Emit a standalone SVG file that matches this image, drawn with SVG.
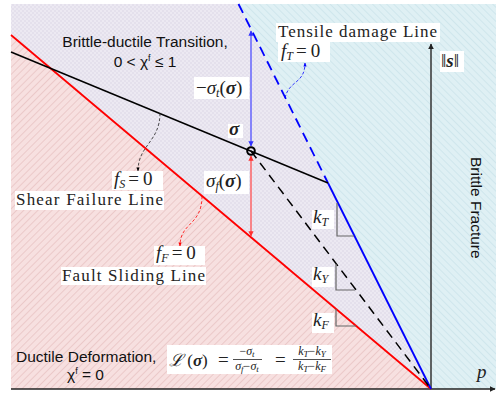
<svg xmlns="http://www.w3.org/2000/svg" width="496" height="396" viewBox="0 0 496 396">
<defs>
<pattern id="pRed" patternUnits="userSpaceOnUse" width="5" height="5" patternTransform="rotate(45)">
<rect width="5" height="5" fill="#f7e0e0"/><line x1="0" y1="0" x2="0" y2="5" stroke="#e9c3c3" stroke-width="1.6"/>
</pattern>
<pattern id="pCyan" patternUnits="userSpaceOnUse" width="5" height="5" patternTransform="rotate(-45)">
<rect width="5" height="5" fill="#dff0f4"/><line x1="0" y1="0" x2="0" y2="5" stroke="#cbe4eb" stroke-width="1.6"/>
</pattern>
<pattern id="pLav" patternUnits="userSpaceOnUse" width="4" height="4">
<rect width="4" height="4" fill="#ece9f2"/><rect width="2" height="2" fill="#e4e0ec"/><rect x="2" y="2" width="2" height="2" fill="#e4e0ec"/>
</pattern>
<marker id="aK" viewBox="0 0 10 10" refX="9" refY="5" markerWidth="5" markerHeight="5" orient="auto"><path d="M0,1 L10,5 L0,9 z" fill="#000"/></marker>
<marker id="aR" viewBox="0 0 10 10" refX="9" refY="5" markerWidth="5" markerHeight="5" orient="auto"><path d="M0,1 L10,5 L0,9 z" fill="#f00"/></marker>
<marker id="aB" viewBox="0 0 10 10" refX="9" refY="5" markerWidth="5" markerHeight="5" orient="auto"><path d="M0,1 L10,5 L0,9 z" fill="#00f"/></marker>
<marker id="aRv" viewBox="0 0 10 10" refX="9" refY="5" markerWidth="4" markerHeight="5" orient="auto-start-reverse"><path d="M0,0 L10,5 L0,10 z" fill="#ff3030"/></marker>
<marker id="aBv" viewBox="0 0 10 10" refX="9" refY="5" markerWidth="4" markerHeight="5" orient="auto-start-reverse"><path d="M0,0 L10,5 L0,10 z" fill="#3030ff"/></marker>
<marker id="aAx" viewBox="0 0 10 10" refX="9" refY="5" markerWidth="4" markerHeight="4" orient="auto"><path d="M0,0 L10,5 L0,10 z" fill="#222"/></marker>
</defs>
<style>
.sans{font-family:"Liberation Sans",Arial,sans-serif;font-size:15.5px;fill:#111}
.ser{font-family:"Liberation Serif","DejaVu Serif",serif;font-size:17px;fill:#222}
.m{font-size:19px}
.it{font-style:italic}
.bf{font-weight:bold;font-style:italic}
.sub{font-size:12px}
.fr{font-size:12px}
.fs{font-size:9px}
.box{fill:#fff}
.tri{fill:none;stroke:#666;stroke-width:1.2}
</style>

<g id="regions">
<polygon points="238.5,4 496,4 496,389 431,389" fill="url(#pCyan)"/>
<polygon points="11,4 238.5,4 431,389 11,35" fill="url(#pLav)"/>
<polygon points="11,35 431,389 11,389" fill="url(#pRed)"/>
</g>

<g id="axes">
<line x1="11" y1="389" x2="495" y2="389" stroke="#222" stroke-width="1.5" marker-end="url(#aAx)"/>
<line x1="431" y1="389" x2="431" y2="44" stroke="#333" stroke-width="1.5" marker-end="url(#aAx)"/>
</g>

<g id="connectors">
<line id="fault-line" x1="11" y1="35" x2="431" y2="389" stroke="#f00" stroke-width="1.8"/>
<line id="tensile-dashed" x1="238.5" y1="4" x2="328" y2="183" stroke="#0000ff" stroke-width="1.8" stroke-dasharray="10,6"/>
<line id="tensile-solid" x1="328" y1="183" x2="431" y2="389" stroke="#0000ff" stroke-width="1.8"/>
<line id="shear-line" x1="11" y1="52" x2="328" y2="183" stroke="#000" stroke-width="1.5"/>
<line id="yield-dashed" x1="251" y1="151" x2="431" y2="389" stroke="#000" stroke-width="1.5" stroke-dasharray="9,6"/>
<line x1="251" y1="31" x2="251" y2="146" stroke="#5050ff" stroke-width="1.3" marker-start="url(#aBv)" marker-end="url(#aBv)"/>
<line x1="251" y1="156" x2="251" y2="236" stroke="#ff5050" stroke-width="1.3" marker-start="url(#aRv)" marker-end="url(#aRv)"/>
<path d="M160,113 C160,142 138,145 138,171" fill="none" stroke="#222" stroke-width="0.8" stroke-dasharray="3,2" marker-end="url(#aK)"/>
<path d="M202,196 C202,226 180,222 180,246" fill="none" stroke="#f00" stroke-width="0.8" stroke-dasharray="3,2" marker-end="url(#aR)"/>
<path d="M285,98 C289,80 305,84 305,63" fill="none" stroke="#00f" stroke-width="0.8" stroke-dasharray="3,2" marker-end="url(#aB)"/>
<polyline class="tri" points="337,203 337,236 354,236"/>
<polyline class="tri" points="336,264 336,290 355,290"/>
<polyline class="tri" points="336,309 336,326 356,326"/>
</g>

<g id="stress-point"><circle cx="251" cy="151" r="3.8" fill="none" stroke="#000" stroke-width="2"/></g>

<g id="label-transition">
<text class="sans" x="145" y="47" text-anchor="middle">Brittle-ductile Transition,</text>
<text class="sans" x="145" y="67" text-anchor="middle">0 &lt;  χ<tspan dy="-6" font-size="9">f</tspan><tspan dy="6"> ≤ 1</tspan></text>
</g>

<g id="label-tensile">
<rect class="box" x="276" y="23" width="164" height="19"/>
<text class="ser" x="278" y="37" textLength="159" lengthAdjust="spacing">Tensile  damage  Line</text>
<rect class="box" x="278" y="42" width="52" height="20"/>
<text class="ser m" x="281" y="57"><tspan class="it">f</tspan><tspan class="it sub" dy="3">T</tspan><tspan dy="-3" dx="3">=</tspan><tspan dx="4">0</tspan></text>
</g>

<g id="label-sigma-t">
<rect class="box" x="194" y="77" width="55" height="22"/>
<text class="ser m" x="196" y="94">−<tspan class="it">σ</tspan><tspan class="it sub" dy="3">t</tspan><tspan dy="-3">(</tspan><tspan class="bf">σ</tspan>)</text>
</g>

<g id="label-sigma">
<rect class="box" x="228" y="124" width="15" height="14"/>
<text class="ser m bf" x="229" y="135">σ</text>
</g>

<g id="label-sigma-f">
<rect class="box" x="204" y="171" width="45" height="23"/>
<text class="ser m" x="206" y="187"><tspan class="it">σ</tspan><tspan class="it sub" dy="3">f</tspan><tspan dy="-3">(</tspan><tspan class="bf">σ</tspan>)</text>
</g>

<g id="label-shear">
<rect class="box" x="112" y="171" width="51" height="19"/>
<text class="ser m" x="114" y="185"><tspan class="it">f</tspan><tspan class="it sub" dy="3">S</tspan><tspan dy="-3" dx="3">=</tspan><tspan dx="4">0</tspan></text>
<rect class="box" x="15" y="191" width="149" height="19"/>
<text class="ser" x="16" y="205" textLength="147" lengthAdjust="spacing">Shear  Failure  Line</text>
</g>

<g id="label-fault">
<rect class="box" x="154" y="246" width="51" height="19"/>
<text class="ser m" x="156" y="259"><tspan class="it">f</tspan><tspan class="it sub" dy="2.5">F</tspan><tspan dy="-2.5" dx="3">=</tspan><tspan dx="4">0</tspan></text>
<rect class="box" x="61" y="267" width="145" height="18"/>
<text class="ser" x="62" y="281" textLength="143" lengthAdjust="spacing">Fault  Sliding  Line</text>
</g>

<g id="label-k">
<rect class="box" x="312" y="210" width="22" height="19"/>
<text class="ser m" x="313" y="223"><tspan class="it">k</tspan><tspan class="it sub" dy="3">T</tspan></text>
<rect class="box" x="312" y="267" width="22" height="20"/>
<text class="ser m" x="313" y="280"><tspan class="it">k</tspan><tspan class="it sub" dy="3">Y</tspan></text>
<rect class="box" x="312" y="313" width="22" height="20"/>
<text class="ser m" x="313" y="326"><tspan class="it">k</tspan><tspan class="it sub" dy="3">F</tspan></text>
</g>

<g id="label-s">
<rect class="box" x="440" y="51" width="24" height="21"/>
<text class="ser m" x="441" y="67">‖<tspan class="bf">s</tspan>‖</text>
</g>

<g id="label-p"><text class="ser m it" x="477" y="378">p</text></g>

<g id="label-brittle">
<text class="sans" x="0" y="0" transform="translate(471,157) rotate(90)" font-size="14.5">Brittle Fracture</text>
</g>

<g id="label-ductile">
<text class="sans" x="16" y="362">Ductile Deformation,</text>
<text class="sans" x="67" y="380">χ<tspan dy="-6" font-size="9">f</tspan><tspan dy="6"> = 0</tspan></text>
</g>

<g id="formula">
<rect class="box" x="167" y="345" width="165" height="29"/>
<text class="ser" x="169" y="366" font-size="19"><tspan class="it">ℒ</tspan> (<tspan class="bf">σ</tspan>)</text>
<text class="ser m" x="218" y="366">=</text>
<text class="ser fr" x="247" y="355" text-anchor="middle">−<tspan class="it">σ</tspan><tspan class="it fs" dy="2">t</tspan></text>
<line x1="233" y1="359.5" x2="262" y2="359.5" stroke="#222" stroke-width="0.8"/>
<text class="ser fr" x="247" y="370" text-anchor="middle"><tspan class="it">σ</tspan><tspan class="it fs" dy="2">f</tspan><tspan dy="-2">−</tspan><tspan class="it">σ</tspan><tspan class="it fs" dy="2">t</tspan></text>
<text class="ser m" x="275" y="366">=</text>
<text class="ser fr" x="312" y="355" text-anchor="middle"><tspan class="it">k</tspan><tspan class="it fs" dy="2">T</tspan><tspan dy="-2">−</tspan><tspan class="it">k</tspan><tspan class="it fs" dy="2">Y</tspan></text>
<line x1="293" y1="359.5" x2="331" y2="359.5" stroke="#222" stroke-width="0.8"/>
<text class="ser fr" x="312" y="370" text-anchor="middle"><tspan class="it">k</tspan><tspan class="it fs" dy="2">T</tspan><tspan dy="-2">−</tspan><tspan class="it">k</tspan><tspan class="it fs" dy="2">F</tspan></text>
</g>
</svg>
